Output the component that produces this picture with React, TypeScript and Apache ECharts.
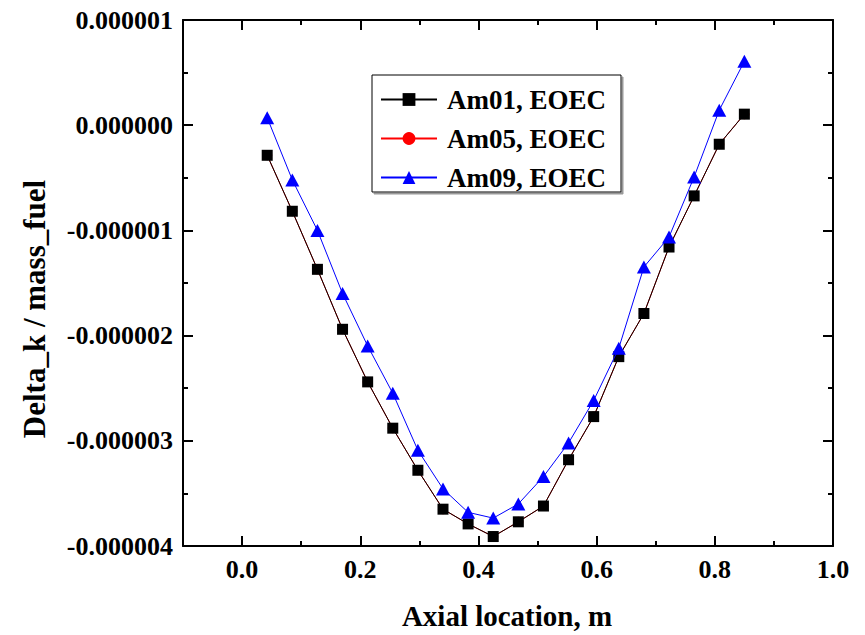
import React, { useEffect, useRef } from "react";
import * as echarts from "echarts";

const xValues = [0.0425, 0.085, 0.1275, 0.17, 0.2125, 0.255, 0.2975, 0.34, 0.3825, 0.425, 0.4675, 0.51, 0.5525, 0.595, 0.6375, 0.68, 0.7225, 0.765, 0.8075, 0.85];
const am01 = [-0.286e-6, -0.818e-6, -1.37e-6, -1.94e-6, -2.44e-6, -2.88e-6, -3.28e-6, -3.65e-6, -3.79e-6, -3.91e-6, -3.77e-6, -3.62e-6, -3.18e-6, -2.77e-6, -2.2e-6, -1.79e-6, -1.158e-6, -0.672e-6, -0.181e-6, 0.105e-6];
const am05 = [-0.286e-6, -0.818e-6, -1.37e-6, -1.94e-6, -2.44e-6, -2.88e-6, -3.28e-6, -3.65e-6, -3.79e-6, -3.91e-6, -3.77e-6, -3.62e-6, -3.18e-6, -2.77e-6, -2.2e-6, -1.79e-6, -1.158e-6, -0.672e-6, -0.181e-6, 0.105e-6];
const am09 = [0.071e-6, -0.52e-6, -1.0e-6, -1.6e-6, -2.098e-6, -2.548e-6, -3.09e-6, -3.457e-6, -3.68e-6, -3.735e-6, -3.6e-6, -3.34e-6, -3.02e-6, -2.617e-6, -2.12e-6, -1.348e-6, -1.063e-6, -0.492e-6, 0.143e-6, 0.607e-6];
const seriesNames = ["Am01, EOEC", "Am05, EOEC", "Am09, EOEC"];
const xTitle = "Axial location, m";
const yTitle = "Delta_k / mass_fuel";

const FONT = "Liberation Serif, Times New Roman, serif";

export default function App() {
  const ref = useRef<HTMLDivElement>(null);
  useEffect(() => {
    if (!ref.current) return;
    const chart = echarts.init(ref.current, undefined, { renderer: "svg" });
    const left = 183;
    const right = 32;
    const top = 20;
    const bottom = 89;
    const plotW = 865 - left - right;
    const left1 = left + (0.1 / 1.1) * plotW;
    const axisLine = { show: true, onZero: false, lineStyle: { color: "#000", width: 2 } };
    const tick = { show: true, inside: true, length: 10, lineStyle: { color: "#000", width: 2 } };
    const minor = { show: true, splitNumber: 2, length: 5, lineStyle: { color: "#000", width: 2 } };
    const pair = (ys: number[]) => xValues.map((x, i) => [x, ys[i]]);
    chart.setOption({
      animation: false,
      backgroundColor: "#fff",
      grid: [
        { left, right, top, bottom },
        { left: left1, right, top, bottom },
      ],
      xAxis: [
        { type: "value", gridIndex: 0, position: "bottom", min: -0.1, max: 1.0, axisLine, axisTick: { show: false }, axisLabel: { show: false }, splitLine: { show: false } },
        { type: "value", gridIndex: 0, position: "top", min: -0.1, max: 1.0, axisLine, axisTick: { show: false }, axisLabel: { show: false }, splitLine: { show: false } },
        {
          type: "value", gridIndex: 1, position: "bottom", min: 0, max: 1.0, interval: 0.2,
          axisLine: { show: false, onZero: false },
          axisTick: tick,
          minorTick: minor,
          axisLabel: { show: true, margin: 10, color: "#000", fontFamily: FONT, fontWeight: "bold", fontSize: 26, formatter: (v: number) => v.toFixed(1) },
          splitLine: { show: false },
        },
        {
          type: "value", gridIndex: 1, position: "top", min: 0, max: 1.0, interval: 0.2,
          axisLine: { show: false, onZero: false },
          axisTick: tick,
          minorTick: minor,
          axisLabel: { show: false },
          splitLine: { show: false },
        },
      ],
      yAxis: [
        {
          type: "value", gridIndex: 0, position: "left", min: -4e-6, max: 1e-6, interval: 1e-6,
          axisLine,
          axisTick: tick,
          minorTick: minor,
          axisLabel: { show: true, margin: 10, color: "#000", fontFamily: FONT, fontWeight: "bold", fontSize: 26, formatter: (v: number) => v.toFixed(6) },
          splitLine: { show: false },
        },
        {
          type: "value", gridIndex: 0, position: "right", min: -4e-6, max: 1e-6, interval: 1e-6,
          axisLine,
          axisTick: tick,
          minorTick: minor,
          axisLabel: { show: false },
          splitLine: { show: false },
        },
        { type: "value", gridIndex: 1, min: 0, max: 1, show: false, axisLine: { show: false, onZero: false }, splitLine: { show: false } },
      ],
      legend: {
        data: seriesNames,
        orient: "vertical",
        left: 372,
        top: 75,
        itemWidth: 56,
        itemHeight: 16,
        itemGap: 12,
        padding: [11, 15, 1, 8],
        borderColor: "#000",
        borderWidth: 1,
        backgroundColor: "#fff",
        shadowColor: "#999",
        shadowOffsetX: 2,
        shadowOffsetY: 2,
        shadowBlur: 0,
        textStyle: { color: "#000", fontFamily: FONT, fontWeight: "bold", fontSize: 27, lineHeight: 26, padding: [0, 0, 0, 5] },
      },
      graphic: [
        {
          type: "text",
          x: 34,
          y: 309,
          rotation: Math.PI / 2,
          style: { text: yTitle, fill: "#000", fontFamily: FONT, fontWeight: "bold", fontSize: 31, textAlign: "center", textVerticalAlign: "middle" },
        },
        {
          type: "text",
          x: 507,
          y: 616,
          style: { text: xTitle, fill: "#000", fontFamily: FONT, fontWeight: "bold", fontSize: 29, textAlign: "center", textVerticalAlign: "middle" },
        },
      ],
      series: [
        {
          name: seriesNames[1], type: "line", xAxisIndex: 0, yAxisIndex: 0, data: pair(am05),
          symbol: "circle", symbolSize: 10, color: "#ff0000", z: 1,
          lineStyle: { color: "#ff0000", width: 1 }, itemStyle: { color: "#ff0000" },
        },
        {
          name: seriesNames[0], type: "line", xAxisIndex: 0, yAxisIndex: 0, data: pair(am01),
          symbol: "rect", symbolSize: 11, color: "#000", z: 2,
          lineStyle: { color: "#000", width: 1 }, itemStyle: { color: "#000" },
        },
        {
          name: seriesNames[2], type: "line", xAxisIndex: 0, yAxisIndex: 0, data: pair(am09),
          symbol: "triangle", symbolSize: [14, 13], color: "#0000ff", z: 3,
          lineStyle: { color: "#0000ff", width: 1 }, itemStyle: { color: "#0000ff" },
        },
      ],
    });
    return () => chart.dispose();
  }, []);
  return <div ref={ref} style={{ width: 865, height: 635, position: "absolute", left: 0, top: 0 }} />;
}
